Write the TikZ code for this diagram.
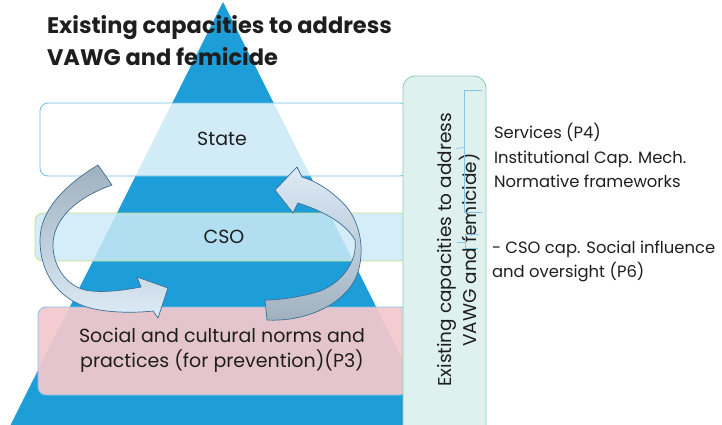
\documentclass[tikz,border=0pt]{standalone}
\usepackage{fontspec}
\setmainfont{Poppins}
\definecolor{triblue}{RGB}{29,158,217}
\definecolor{stateborder}{RGB}{110,190,228}
\definecolor{csofill}{RGB}{205,234,247}
\definecolor{csoborder}{RGB}{200,220,140}
\definecolor{pinkfill}{RGB}{242,200,205}
\definecolor{pinkborder}{RGB}{125,195,227}
\definecolor{greenfill}{RGB}{222,241,238}
\definecolor{greenborder}{RGB}{140,205,185}
\definecolor{arrgrey}{RGB}{160,176,190}
\definecolor{arrlight}{RGB}{220,235,246}
\definecolor{arrline}{RGB}{60,110,150}
\definecolor{brk}{RGB}{130,195,230}
\definecolor{txt}{RGB}{30,30,30}
\begin{document}
\begin{tikzpicture}[x=1pt,y=-1pt,
  every node/.style={inner sep=0pt,outer sep=0pt},
  titletext/.style={font=\fontsize{22.5}{26}\bfseries\selectfont,text=txt,anchor=base west},
  bodytext/.style={font=\fontsize{19}{25}\selectfont,text=txt},
  sidetext/.style={font=\fontsize{16.4}{20}\selectfont,text=txt,anchor=base west},
  layerbox/.style={rectangle,rounded corners=8pt,line width=0.8pt},
  arrowband/.style={draw=arrline,line width=0.7pt},
  brkline/.style={draw=brk,line width=0.6pt}]
\useasboundingbox (0,0) rectangle (722,424);
\clip (0,0) rectangle (722,424);
% pyramid
\fill[triblue] (223,2) -- (438,430) -- (8,430) -- cycle;
% title
\node[titletext] (t1) at (47,33) {Existing capacities to address};
\node[titletext] (t2) at (47,65) {VAWG and femicide};
% layer boxes
\node[layerbox,draw=stateborder,fill=white,fill opacity=0.8,minimum width=368pt,minimum height=73pt] (state) at (224,139.5) {};
\node[layerbox,draw=csoborder,fill=csofill,fill opacity=0.85,minimum width=373pt,minimum height=48pt] (cso) at (221.5,237) {};
\node[layerbox,draw=pinkborder,fill=pinkfill,fill opacity=0.94,minimum width=370pt,minimum height=88pt] (norms) at (223,351) {};
\node[bodytext] (statelbl) at (222,139) {State};
\node[bodytext] (csolbl) at (224,237) {CSO};
\node[bodytext,align=center] (normslbl) at (222,350) {Social and cultural norms and\\practices (for prevention)(P3)};
% circular arrows
\shadedraw[arrowband,top color=arrgrey,bottom color=arrlight]
 (98,165) .. controls (65,185) and (40,210) .. (40,240)
 .. controls (40,275) and (60,300) .. (90,308)
 .. controls (110,313) and (135,313) .. (153,311)
 -- (158,318) -- (168,288) -- (137,277) -- (141,287)
 .. controls (120,291) and (100,293) .. (85,290)
 .. controls (65,285) and (53,265) .. (53,245)
 .. controls (53,220) and (75,198) .. (112,185) -- cycle;
\shadedraw[arrowband,top color=arrlight,bottom color=arrgrey]
 (267,320) .. controls (305,322) and (345,305) .. (357,275)
 .. controls (366,250) and (360,220) .. (343,203)
 .. controls (330,190) and (316,181) .. (302,177)
 -- (297,167) -- (275,190) -- (293,213) -- (298,203)
 .. controls (320,210) and (345,222) .. (355,240)
 .. controls (358,262) and (340,285) .. (317,292)
 .. controls (300,297) and (280,300) .. (265,300) -- cycle;
% side panel
\node[rectangle,rounded corners=12pt,draw=greenborder,fill=greenfill,line width=0.8pt,minimum width=83pt,minimum height=370pt] (panel) at (444.5,261) {};
\node[rotate=90,align=center,text=txt,font=\fontsize{18.5}{25}\selectfont] (paneltxt) at (459,250) {Existing capacities to address\\VAWG and femicide)};
% brackets
\draw[brkline] (482,90) -- (464,90) -- (464,212) -- (482,212);
\draw[brkline] (464,147) -- (456,149);
\draw[brkline] (478,234) -- (465,234) -- (465,248) -- (478,248);
\draw[brkline] (465,242) -- (457,242);
% side texts
\node[sidetext] (s1) at (494,138) {Services (P4)};
\node[sidetext] (s2) at (494,163) {Institutional Cap. Mech.};
\node[sidetext] (s3) at (494,187) {Normative frameworks};
\node[sidetext] (s4) at (492,253) {- CSO cap. Social influence};
\node[sidetext] (s5) at (492,277) {and oversight (P6)};
\end{tikzpicture}
\end{document}
